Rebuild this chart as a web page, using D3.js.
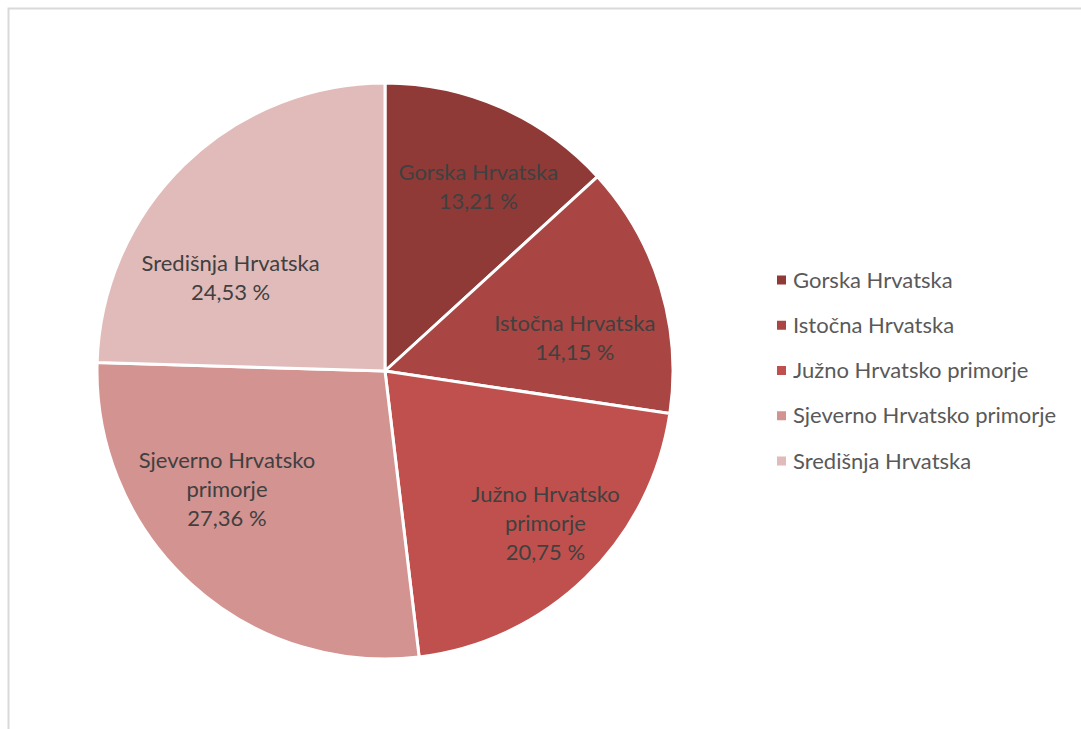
<!DOCTYPE html>
<html>
<head>
<meta charset="utf-8">
<script src="https://cdn.jsdelivr.net/npm/d3@7"></script>
<style>
	body { margin: 0; background: #fff; }
	svg text { font-family: Lato, "Open Sans", sans-serif; }
</style>
</head>
<body>
<svg id="chart" width="1081" height="729"></svg>
<script>
var regions = ["Gorska Hrvatska", "Istočna Hrvatska", "Južno Hrvatsko primorje", "Sjeverno Hrvatsko primorje", "Središnja Hrvatska"];
var shares = [13.21, 14.15, 20.75, 27.36, 24.53];
var labelLines = [["Gorska Hrvatska"], ["Istočna Hrvatska"], ["Južno Hrvatsko", "primorje"], ["Sjeverno Hrvatsko", "primorje"], ["Središnja Hrvatska"]];
var colors = ["#8f3a37", "#a94542", "#c0504d", "#d39391", "#e0bbba"];

var svg = d3.select("#chart");
var width = 1081, height = 729;

// chart area border
svg.append("rect")
	.attr("x", 8.5).attr("y", 8.5)
	.attr("width", 1080).attr("height", 740)
	.attr("fill", "none")
	.attr("stroke", "#d9d9d9")
	.attr("stroke-width", 2)

var cx = 385, cy = 371, radius = 288;

var pie = d3.pie().sort(null).value(function(d) { return d; });
var arcs = pie(shares);
var arc = d3.arc().innerRadius(0).outerRadius(radius);
var labelArc = d3.arc().innerRadius(radius * 0.7).outerRadius(radius * 0.7);
// small nudges so labels sit where Excel put them
var labelShift = [[12, 0], [-3, 26], [20, 8], [-22, -30], [-14, 51]];

var g = svg.append("g").attr("transform", "translate(" + cx + "," + cy + ")");

g.selectAll("path.slice")
	.data(arcs)
	.enter().append("path")
	.attr("class", "slice")
	.attr("d", arc)
	.attr("fill", function(d, i) { return colors[i]; })
	.attr("stroke", "#fff")
	.attr("stroke-width", 3)
	.attr("stroke-linejoin", "round")

var lineH = 29;
var labels = g.selectAll("text.lbl")
	.data(arcs)
	.enter().append("text")
	.attr("class", "lbl")
	.attr("text-anchor", "middle")
	.attr("fill", "#404040")
	.attr("font-size", "22px")
	.each(function(d, i) {
		var c = labelArc.centroid(d);
		var x = c[0] + labelShift[i][0], y = c[1] + labelShift[i][1];
		var lines = labelLines[i].concat([shares[i].toFixed(2).replace(".", ",") + " %"]);
		var top = y - (lines.length - 1) * lineH / 2;
		var t = d3.select(this);
		lines.forEach(function(l, k) {
			t.append("tspan")
				.attr("x", x)
				.attr("y", top + k * lineH)
				.attr("dy", "0.35em")
				.text(l);
		});
	});

// legend
var legendY = d3.scalePoint().domain(regions).range([280, 461]);
var legend = svg.append("g").attr("class", "legend");
var item = legend.selectAll("g")
	.data(regions)
	.enter().append("g")
	.attr("transform", function(d) { return "translate(777," + legendY(d) + ")"; });
item.append("rect")
	.attr("x", 0).attr("y", -4.5)
	.attr("width", 9).attr("height", 9)
	.attr("fill", function(d, i) { return colors[i]; })
item.append("text")
	.attr("x", 16)
	.attr("dy", "0.35em")
	.attr("fill", "#595959")
	.attr("font-size", "22px")
	.text(function(d) { return d; });
</script>
</body>
</html>
